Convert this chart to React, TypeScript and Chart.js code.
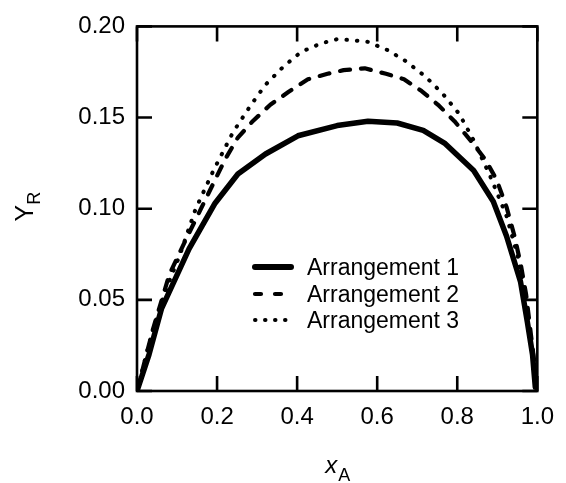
import React, { useEffect, useRef } from "react";
import { Chart, registerables } from "chart.js";

Chart.register(...registerables);

const seriesLabels = ["Arrangement 1", "Arrangement 2", "Arrangement 3"];

const arr1X = [0, 0.03, 0.061, 0.13, 0.195, 0.252, 0.321, 0.402, 0.5, 0.577, 0.65, 0.715, 0.768, 0.841, 0.89, 0.923, 0.958, 0.975, 0.988, 0.995];
const arr1Y = [0, 0.02, 0.045, 0.078, 0.103, 0.119, 0.13, 0.14, 0.1456, 0.148, 0.147, 0.143, 0.136, 0.121, 0.104, 0.085, 0.06, 0.038, 0.02, 0.002];

const arr2X = [0, 0.04, 0.081, 0.122, 0.171, 0.22, 0.252, 0.289, 0.333, 0.378, 0.427, 0.476, 0.516, 0.569, 0.622, 0.667, 0.711, 0.752, 0.793, 0.833, 0.87, 0.898, 0.923, 0.943, 0.959, 0.972, 0.984, 0.993, 0.998];
const arr2Y = [0, 0.034, 0.064, 0.083, 0.105, 0.127, 0.139, 0.148, 0.157, 0.164, 0.171, 0.174, 0.176, 0.177, 0.174, 0.171, 0.1645, 0.157, 0.148, 0.1375, 0.127, 0.116, 0.101, 0.085, 0.069, 0.053, 0.031, 0.015, 0.002];

const arr3X = [0, 0.035, 0.073, 0.106, 0.146, 0.191, 0.24, 0.285, 0.321, 0.366, 0.41, 0.459, 0.5, 0.533, 0.577, 0.626, 0.671, 0.72, 0.764, 0.805, 0.841, 0.882, 0.923, 0.951, 0.967, 0.984, 0.993, 0.998];
const arr3Y = [0, 0.03, 0.056, 0.074, 0.0996, 0.121, 0.142, 0.157, 0.168, 0.178, 0.186, 0.1906, 0.193, 0.1925, 0.1915, 0.187, 0.181, 0.1726, 0.163, 0.152, 0.1375, 0.118, 0.096, 0.074, 0.053, 0.029, 0.014, 0.002];

const xTicks = [0, 0.2, 0.4, 0.6, 0.8, 1.0];
const yTicks = [0, 0.05, 0.1, 0.15, 0.2];

const xTitleMain = "x";
const xTitleSub = "A";
const yTitleMain = "Y";
const yTitleSub = "R";

const FONT = "'Liberation Sans', Arial, sans-serif";

const toPoints = (xs: number[], ys: number[]) => xs.map((x, i) => ({ x, y: ys[i] }));

const legendStyles = [
  { width: 6, dash: [] as number[], cap: "round" as CanvasLineCap, x0: 255, x1: 291 },
  { width: 4.2, dash: [6, 14], cap: "round" as CanvasLineCap, x0: 255, x1: 282 },
  { width: 4, dash: [0.5, 9.5], cap: "round" as CanvasLineCap, x0: 255, x1: 286 },
];

const decorPlugin = {
  id: "decor",
  afterDraw(chart: any) {
    const ctx: CanvasRenderingContext2D = chart.ctx;
    const { left, right, top, bottom } = chart.chartArea;
    const xs = chart.scales.x;
    const ys = chart.scales.y;
    ctx.save();
    ctx.strokeStyle = "#000";
    ctx.lineWidth = 2.6;
    ctx.lineCap = "butt";
    ctx.setLineDash([]);
    ctx.strokeRect(left, top, right - left, bottom - top);
    const tl = 15;
    ctx.beginPath();
    xTicks.forEach((v) => {
      const p = xs.getPixelForValue(v);
      ctx.moveTo(p, bottom);
      ctx.lineTo(p, bottom - tl);
      ctx.moveTo(p, top);
      ctx.lineTo(p, top + tl);
    });
    yTicks.forEach((v) => {
      const p = ys.getPixelForValue(v);
      ctx.moveTo(left, p);
      ctx.lineTo(left + tl, p);
      ctx.moveTo(right, p);
      ctx.lineTo(right - tl, p);
    });
    ctx.stroke();

    // legend
    const rowY = [268, 295, 321];
    chart.data.datasets.forEach((ds: any, i: number) => {
      const st = legendStyles[i];
      const y = rowY[i];
      ctx.beginPath();
      ctx.lineWidth = st.width;
      ctx.lineCap = st.cap;
      ctx.setLineDash(st.dash);
      ctx.moveTo(st.x0, y - 1);
      ctx.lineTo(st.x1, y - 1);
      ctx.stroke();
      ctx.setLineDash([]);
      ctx.fillStyle = "#000";
      ctx.font = `23px ${FONT}`;
      ctx.textAlign = "left";
      ctx.textBaseline = "middle";
      ctx.fillText(ds.label, 307, y + 1);
    });

    // x title
    ctx.textBaseline = "alphabetic";
    ctx.font = `italic 24px ${FONT}`;
    const wx = ctx.measureText(xTitleMain).width;
    ctx.font = `18px ${FONT}`;
    const wa = ctx.measureText(xTitleSub).width;
    const cx = (left + right) / 2;
    const sx = cx - (wx + wa) / 2;
    ctx.font = `italic 24px ${FONT}`;
    ctx.fillText(xTitleMain, sx, bottom + 82);
    ctx.font = `18px ${FONT}`;
    ctx.fillText(xTitleSub, sx + wx + 1, bottom + 90);

    // y title
    ctx.save();
    const cy = (top + bottom) / 2 - 2;
    ctx.translate(33, cy);
    ctx.rotate(-Math.PI / 2);
    ctx.font = `25px ${FONT}`;
    const wy = ctx.measureText(yTitleMain).width;
    ctx.font = `18px ${FONT}`;
    const wr = ctx.measureText(yTitleSub).width;
    const s = -(wy + wr) / 2;
    ctx.font = `25px ${FONT}`;
    ctx.fillText(yTitleMain, s, 0);
    ctx.font = `18px ${FONT}`;
    ctx.fillText(yTitleSub, s + wy, 7);
    ctx.restore();

    ctx.restore();
  },
};

export default function App() {
  const ref = useRef<HTMLCanvasElement | null>(null);
  useEffect(() => {
    document.body.style.margin = "0";
    document.body.style.background = "#fff";
    if (!ref.current) return;
    const chart = new Chart(ref.current, {
      type: "scatter",
      data: {
        datasets: [
          {
            label: seriesLabels[0],
            data: toPoints(arr1X, arr1Y),
            showLine: true,
            borderColor: "#000",
            borderWidth: 5.5,
            pointRadius: 0,
            borderCapStyle: "round",
            borderJoinStyle: "round",
          },
          {
            label: seriesLabels[1],
            data: toPoints(arr2X, arr2Y),
            showLine: true,
            borderColor: "#000",
            borderWidth: 4.2,
            pointRadius: 0,
            borderDash: [10, 11],
            borderCapStyle: "round",
            borderJoinStyle: "round",
          },
          {
            label: seriesLabels[2],
            data: toPoints(arr3X, arr3Y),
            showLine: true,
            borderColor: "#000",
            borderWidth: 4,
            pointRadius: 0,
            borderDash: [0.5, 10],
            borderCapStyle: "round",
            borderJoinStyle: "round",
          },
        ],
      } as any,
      options: {
        responsive: false,
        animation: false,
        devicePixelRatio: 1,
        layout: { padding: { left: 0, top: 21, right: 19, bottom: 0 } },
        plugins: { legend: { display: false }, tooltip: { enabled: false } },
        scales: {
          x: {
            type: "linear",
            min: 0,
            max: 1,
            afterFit: (s: any) => {
              s.height = 92;
            },
            afterBuildTicks: (s: any) => {
              s.ticks = xTicks.map((v) => ({ value: v }));
            },
            grid: { display: false, drawTicks: false },
            border: { display: false },
            ticks: {
              padding: 12,
              color: "#000",
              font: { family: FONT, size: 24 },
              callback: (v: any) => Number(v).toFixed(1),
            },
          },
          y: {
            type: "linear",
            min: 0,
            max: 0.2,
            afterFit: (s: any) => {
              s.width = 137;
            },
            afterBuildTicks: (s: any) => {
              s.ticks = yTicks.map((v) => ({ value: v }));
            },
            grid: { display: false, drawTicks: false },
            border: { display: false },
            ticks: {
              padding: 12,
              color: "#000",
              font: { family: FONT, size: 24 },
              callback: (v: any) => Number(v).toFixed(2),
            },
          },
        },
      } as any,
      plugins: [decorPlugin],
    });
    return () => chart.destroy();
  }, []);
  return (
    <div style={{ position: "absolute", left: 0, top: 0, width: 566, height: 483, background: "#fff" }}>
      <canvas ref={ref} width={566} height={483} style={{ width: 566, height: 483, display: "block" }} />
    </div>
  );
}
